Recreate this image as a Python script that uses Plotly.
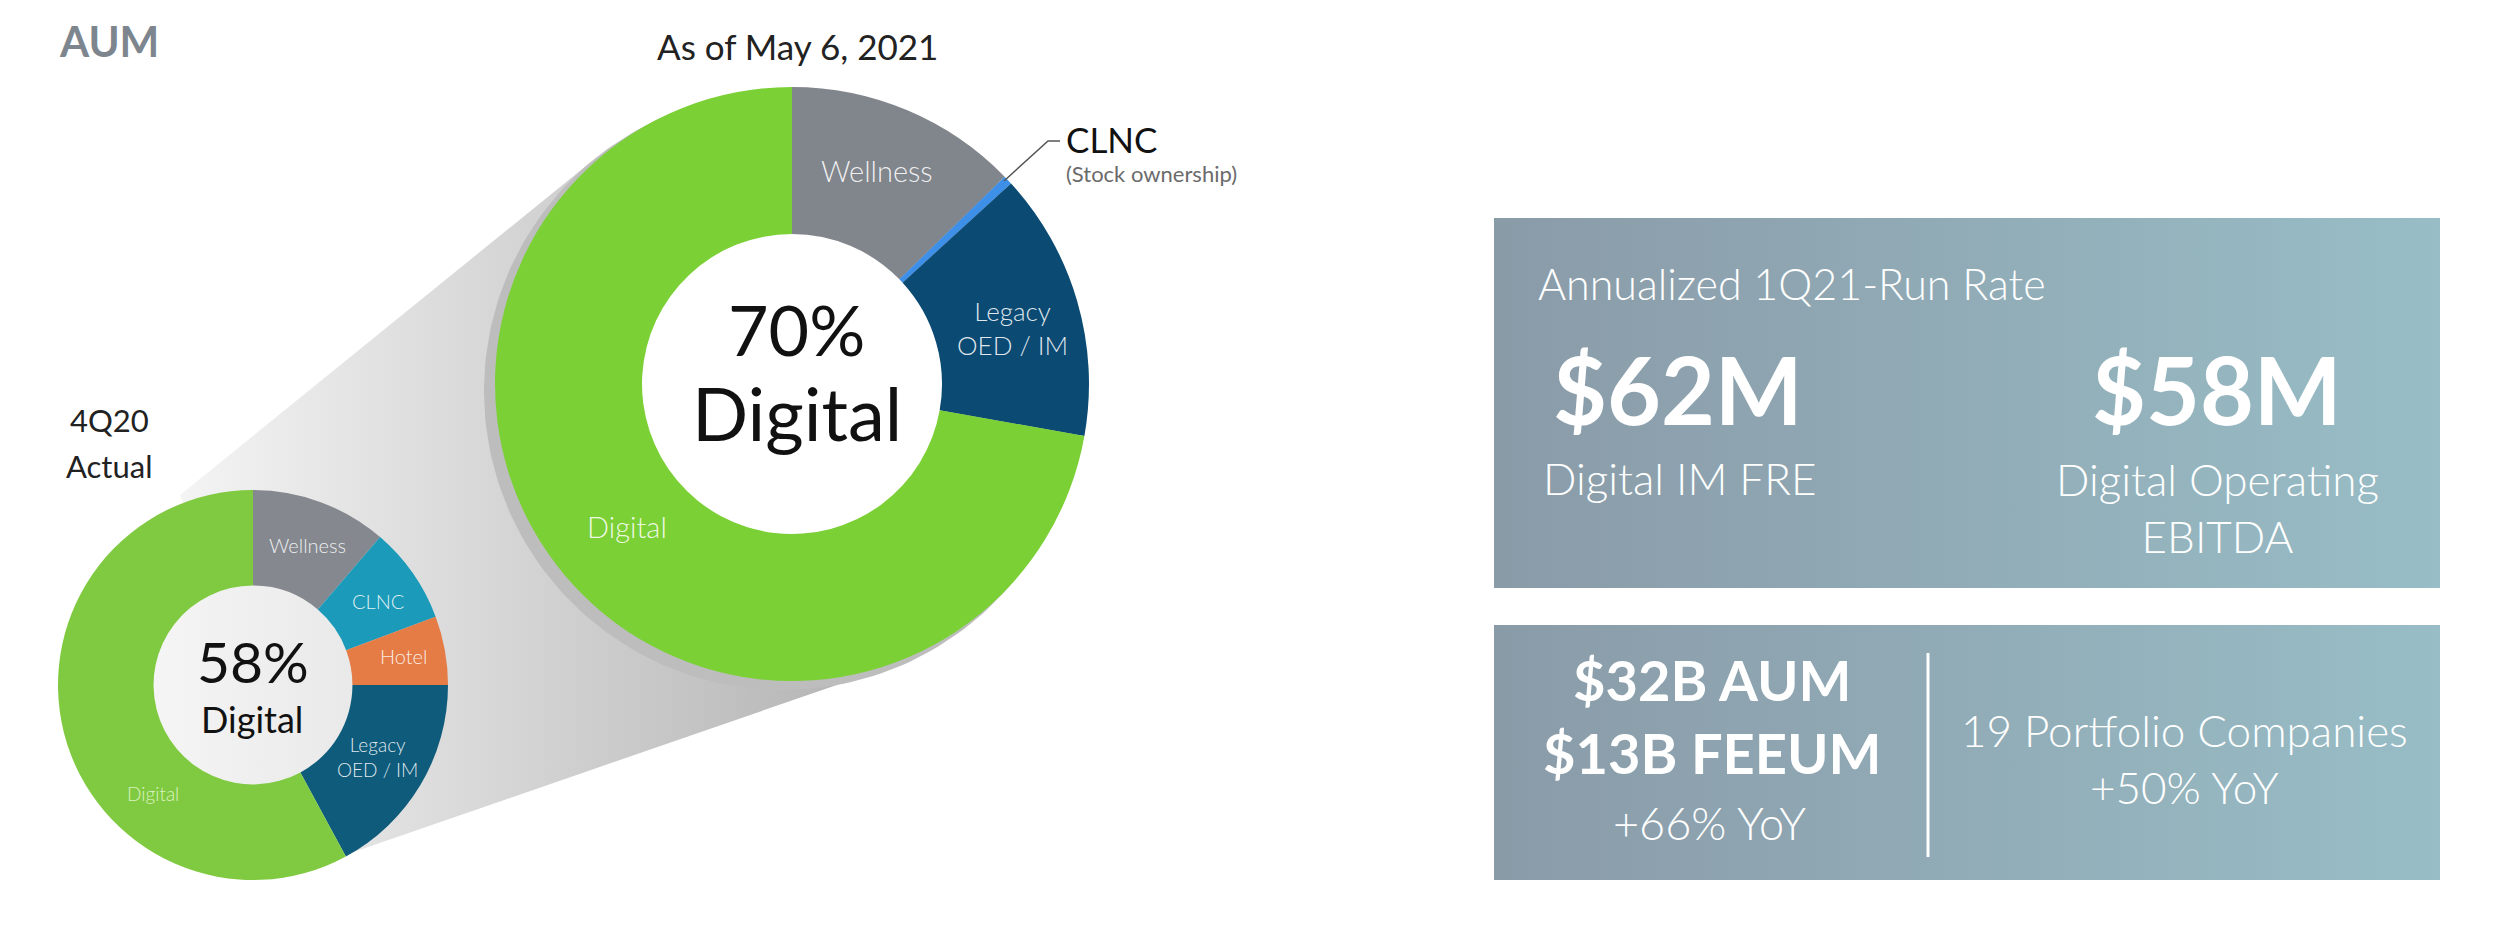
import numpy as np
import plotly.graph_objects as go

W, H = 2500, 933
FONT = "Lato"

# ---------------- data ----------------
current_labels = ["Wellness", "CLNC", "Legacy<br>OED / IM", "Digital"]
current_values = [12.7, 0.5, 14.6, 72.2]
current_colors = ["#81858c", "#3d8fe8", "#0b4a73", "#7bd035"]
current_center = ["70%", "Digital"]
current_title = "As of May 6, 2021"
current_note = "(Stock ownership)"

prior_labels = ["Wellness", "CLNC", "Hotel", "Legacy<br>OED / IM", "Digital"]
prior_values = [11.3, 8.0, 5.7, 17.1, 57.9]
prior_colors = ["#85898f", "#1b9ab9", "#e57b45", "#0e5b7b", "#80ca42"]
prior_center = ["58%", "Digital"]
prior_title = ["4Q20", "Actual"]

run_rate_title = "Annualized 1Q21-Run Rate"
run_rate_values = ["$62M", "$58M"]
run_rate_labels = ["Digital IM FRE", "Digital Operating<br>EBITDA"]
aum_lines = ["$32B AUM", "$13B FEEUM"]
aum_growth = "+66% YoY"
portfolio_text = "19 Portfolio Companies<br>+50% YoY"

# ---------------- geometry (pixels) ----------------
L_CX, L_CY, L_R, L_HOLE = 792, 384, 297, 0.505
S_CX, S_CY, S_R, S_HOLE = 253, 685, 195, 0.51


def dom(cx, cy, r):
    return dict(x=[(cx - r) / W, (cx + r) / W], y=[1 - (cy + r) / H, 1 - (cy - r) / H])


def circle(cx, cy, r, n=240):
    t = np.linspace(0, 2 * np.pi, n)
    return cx + r * np.cos(t), cy + r * np.sin(t)


NOLINE = dict(width=0, color="rgba(0,0,0,0)")
fig = go.Figure()

# cone connecting small donut to big donut
cone_x = [180, 597, L_CX, 860, 345, S_CX, 180]
cone_y = [495, 157, L_CY, 677, 855, S_CY, 495]
fig.add_trace(go.Scatter(
    x=cone_x, y=cone_y, fill="toself", mode="lines", line=NOLINE,
    fillgradient=dict(type="horizontal", colorscale=[[0, "#f4f4f4"], [1, "#b4b4b4"]]),
    hoverinfo="skip", showlegend=False))

# shadow of big donut
sx, sy = circle(L_CX - 9, L_CY + 7, L_R + 2)
fig.add_trace(go.Scatter(x=sx, y=sy, fill="toself", mode="lines", line=NOLINE,
                         fillcolor="#bdbdbd", hoverinfo="skip", showlegend=False))
# hole fills
hx, hy = circle(L_CX, L_CY, L_R * L_HOLE + 1)
fig.add_trace(go.Scatter(x=hx, y=hy, fill="toself", mode="lines", line=NOLINE,
                         fillcolor="#ffffff", hoverinfo="skip", showlegend=False))
hx, hy = circle(S_CX, S_CY, S_R * S_HOLE + 1)
fig.add_trace(go.Scatter(x=hx, y=hy, fill="toself", mode="lines", line=NOLINE,
                         fillgradient=dict(type="horizontal",
                                           colorscale=[[0, "#f5f5f5"], [1, "#e9e9e9"]]),
                         hoverinfo="skip", showlegend=False))

# right-side boxes with gradient
for (x0, y0, x1, y1) in [(1494, 218, 2440, 588), (1494, 625, 2440, 880)]:
    fig.add_trace(go.Scatter(
        x=[x0, x1, x1, x0, x0], y=[y0, y0, y1, y1, y0], fill="toself", mode="lines",
        line=NOLINE,
        fillgradient=dict(type="horizontal", colorscale=[[0, "#8a9ba8"], [1, "#98bdc6"]]),
        hoverinfo="skip", showlegend=False))

# donuts
fig.add_trace(go.Pie(
    labels=current_labels, values=current_values, hole=L_HOLE, sort=False,
    direction="clockwise", rotation=0, textinfo="none", hoverinfo="skip",
    marker=dict(colors=current_colors, line=dict(width=0)),
    domain=dom(L_CX, L_CY, L_R), showlegend=False))
fig.add_trace(go.Pie(
    labels=prior_labels, values=prior_values, hole=S_HOLE, sort=False,
    direction="clockwise", rotation=0, textinfo="none", hoverinfo="skip",
    marker=dict(colors=prior_colors, line=dict(width=0)),
    domain=dom(S_CX, S_CY, S_R), showlegend=False))

ann = []


def txt(x, y, s, size, color="#ffffff", weight=300, xanchor="center", align="center"):
    ann.append(dict(x=x, y=y - 0.1 * size, xref="x", yref="y", text=s, showarrow=False,
                    xanchor=xanchor, yanchor="middle", align=align,
                    font=dict(family=FONT, size=size, color=color, weight=weight)))


# left section titles
txt(57, 45, "AUM", 42, color="#7d868e", weight=700, xanchor="left")
txt(797, 49, current_title, 35, color="#222222", weight=400)
txt(109, 423, prior_title[0], 31, color="#222222", weight=400)
txt(109, 469, prior_title[1], 31, color="#222222", weight=400)

# big donut labels
lab_col = "rgba(255,255,255,0.88)"
txt(877, 173, current_labels[0], 29, color=lab_col)
txt(1012, 331, current_labels[2], 26, color=lab_col)
txt(627, 529, current_labels[3], 29, color=lab_col)
txt(1064, 142, current_labels[1], 35, color="#111111", weight=400, xanchor="left")
txt(1064, 176, current_note, 22, color="#6b6b6b", weight=400, xanchor="left")
txt(796, 336, current_center[0], 70, color="#111111", weight=400)
txt(797, 420, current_center[1], 74, color="#111111", weight=400)

# small donut labels
txt(307, 547, prior_labels[0], 20, color=lab_col)
txt(378, 603, prior_labels[1], 20, color=lab_col)
txt(403, 658, prior_labels[2], 20, color=lab_col)
txt(377, 759, prior_labels[3], 19, color=lab_col)
txt(153, 795, prior_labels[4], 19, color="rgba(235,250,220,0.85)")
txt(253, 667, prior_center[0], 57, color="#111111", weight=400)
txt(252, 723, prior_center[1], 36, color="#111111", weight=400)

# box 1
txt(1536, 288, run_rate_title, 43, xanchor="left")
txt(1678, 398, run_rate_values[0], 93, weight=700)
txt(2217, 398, run_rate_values[1], 93, weight=700)
txt(1679, 482, run_rate_labels[0], 44)
txt(2217, 512, run_rate_labels[1], 44)

# box 2
txt(1712, 685, aum_lines[0], 56, weight=700)
txt(1712, 758, aum_lines[1], 56, weight=700)
txt(1709, 827, aum_growth, 45)
txt(2184, 763, portfolio_text, 44)

shapes = [
    # divider in box 2
    dict(type="line", xref="x", yref="y", x0=1928, x1=1928, y0=653, y1=857,
         line=dict(color="#ffffff", width=3), layer="above"),
    # CLNC leader line
    dict(type="path", xref="x", yref="y", path="M 1060 141 L 1048 141 L 1004 181",
         line=dict(color="#555555", width=1.5), layer="above"),
]

fig.update_layout(
    width=W, height=H, margin=dict(l=0, r=0, t=0, b=0),
    paper_bgcolor="#ffffff", plot_bgcolor="#ffffff",
    xaxis=dict(range=[0, W], visible=False, fixedrange=True),
    yaxis=dict(range=[H, 0], visible=False, fixedrange=True),
    annotations=ann, shapes=shapes, showlegend=False,
)

fig.write_html("out.html")
